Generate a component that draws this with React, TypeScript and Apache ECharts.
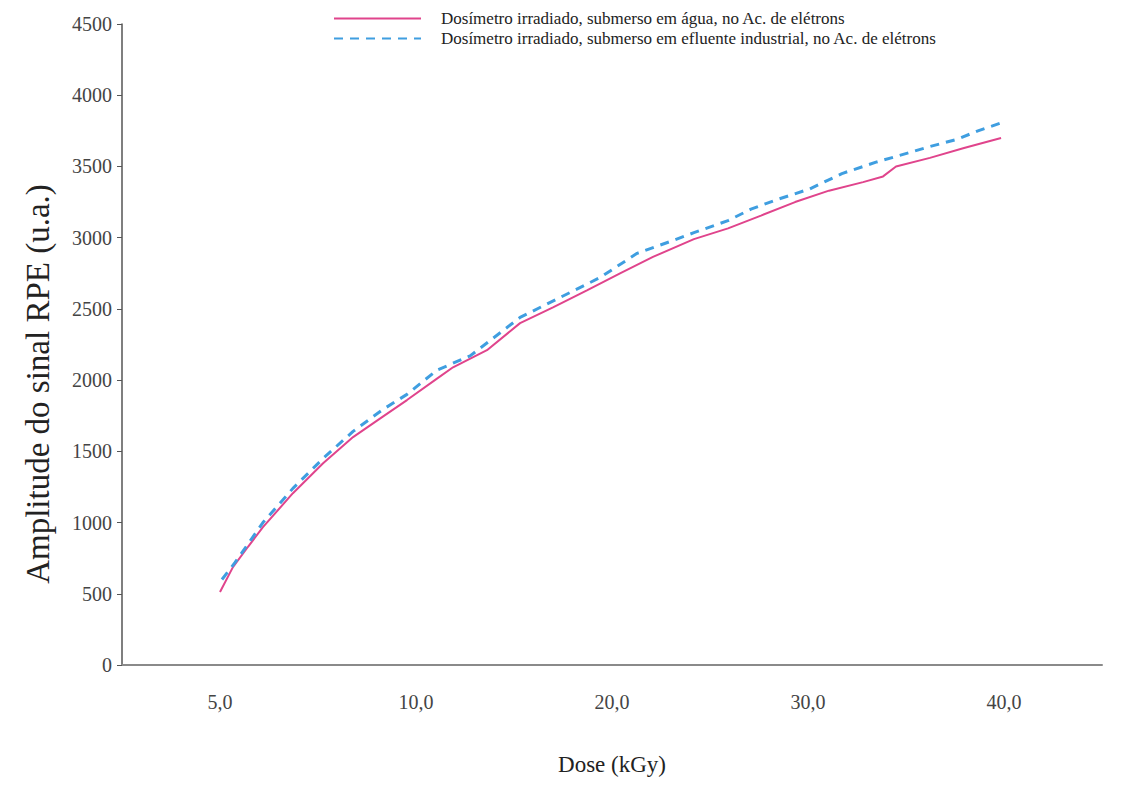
import React, { useEffect, useRef } from "react";
import * as echarts from "echarts";

// x positions are tick positions on the (non-linear) dose axis: 1 = "5,0", 5 = "40,0"
const doseTickPositions = [1, 2, 3, 4, 5];
const doseTickLabels = ["5,0", "10,0", "20,0", "30,0", "40,0"];

const seriesNames = [
  "Dosímetro irradiado, submerso em água, no Ac. de elétrons",
  "Dosímetro irradiado, submerso em efluente industrial, no Ac. de elétrons",
];

const waterX = [1.0, 1.066, 1.143, 1.219, 1.372, 1.526, 1.679, 1.827, 1.954, 2.107, 2.189, 2.362, 2.531, 2.699, 2.872, 3.041, 3.209, 3.418, 3.592, 3.76, 3.934, 4.107, 4.281, 4.383, 4.449, 4.622, 4.796, 4.985];
const waterY = [513, 687, 830, 968, 1206, 1416, 1600, 1740, 1860, 2010, 2090, 2210, 2400, 2510, 2630, 2750, 2865, 2990, 3065, 3155, 3250, 3330, 3390, 3430, 3500, 3560, 3630, 3700];

const effluentX = [1.01, 1.077, 1.219, 1.372, 1.526, 1.679, 1.827, 1.954, 2.107, 2.276, 2.531, 2.735, 2.939, 3.128, 3.311, 3.418, 3.592, 3.709, 3.847, 4.005, 4.173, 4.347, 4.449, 4.622, 4.76, 4.867, 4.995];
const effluentY = [600, 720, 1000, 1240, 1450, 1640, 1790, 1900, 2070, 2170, 2440, 2580, 2720, 2890, 2980, 3035, 3120, 3200, 3270, 3340, 3450, 3530, 3570, 3640, 3690, 3750, 3810];

const serif = "Liberation Serif";

export default function App() {
  const ref = useRef<HTMLDivElement>(null);
  useEffect(() => {
    if (!ref.current) return;
    const chart = echarts.init(ref.current, null, { renderer: "svg" });
    const water = waterX.map((x, i) => [x, waterY[i]]);
    const effluent = effluentX.map((x, i) => [x, effluentY[i]]);
    chart.setOption({
      animation: false,
      backgroundColor: "#ffffff",
      textStyle: { fontFamily: serif },
      grid: { left: 122, right: 40, top: 24, bottom: 128 },
      legend: {
        orient: "vertical",
        left: 333,
        top: 10,
        padding: 0,
        itemWidth: 87,
        itemHeight: 14,
        itemGap: 3,
        itemStyle: { opacity: 0 },
        textStyle: { fontFamily: serif, fontSize: 17, color: "#222", padding: [0, 0, 0, 15] },
        data: seriesNames,
      },
      graphic: [
        {
          type: "text",
          x: 38,
          y: 384,
          rotation: Math.PI / 2,
          style: {
            text: "Amplitude do sinal RPE (u.a.)",
            fontFamily: serif,
            fontSize: 33,
            fill: "#222",
            align: "center",
            verticalAlign: "middle",
          },
        },
      ],
      xAxis: {
        type: "value",
        min: 0.5,
        max: 5.5,
        name: "Dose (kGy)",
        nameLocation: "middle",
        nameGap: 88,
        nameTextStyle: { fontFamily: serif, fontSize: 23, color: "#222" },
        axisLine: { show: true, lineStyle: { color: "#8a8a8a", width: 2 } },
        axisTick: { show: false },
        splitLine: { show: false },
        axisLabel: {
          customValues: doseTickPositions,
          margin: 27,
          fontFamily: serif,
          fontSize: 20,
          color: "#444",
          formatter: (v: number) => doseTickLabels[Math.round(v) - 1] ?? "",
        },
      },
      yAxis: {
        type: "value",
        min: 0,
        max: 4500,
        interval: 500,
        axisLine: { show: true, lineStyle: { color: "#555", width: 1.5 } },
        axisTick: { show: true, length: 5, lineStyle: { color: "#555" } },
        splitLine: { show: false },
        axisLabel: {
          margin: 10,
          fontFamily: serif,
          fontSize: 20,
          color: "#444",
          formatter: (v: number) => String(v),
        },
      },
      series: [
        {
          name: seriesNames[0],
          type: "line",
          data: water,
          symbol: "none",
          lineStyle: { color: "#e0448c", width: 2 },
          itemStyle: { color: "#e0448c" },
          z: 2,
        },
        {
          name: seriesNames[1],
          type: "line",
          data: effluent,
          symbol: "none",
          lineStyle: { color: "#3f9ee0", width: 3, type: [9, 7] },
          itemStyle: { color: "#3f9ee0" },
          z: 3,
        },
      ],
    });
    return () => chart.dispose();
  }, []);
  return (
    <div
      ref={ref}
      style={{ position: "fixed", left: 0, top: 0, width: 1142, height: 793 }}
    />
  );
}
